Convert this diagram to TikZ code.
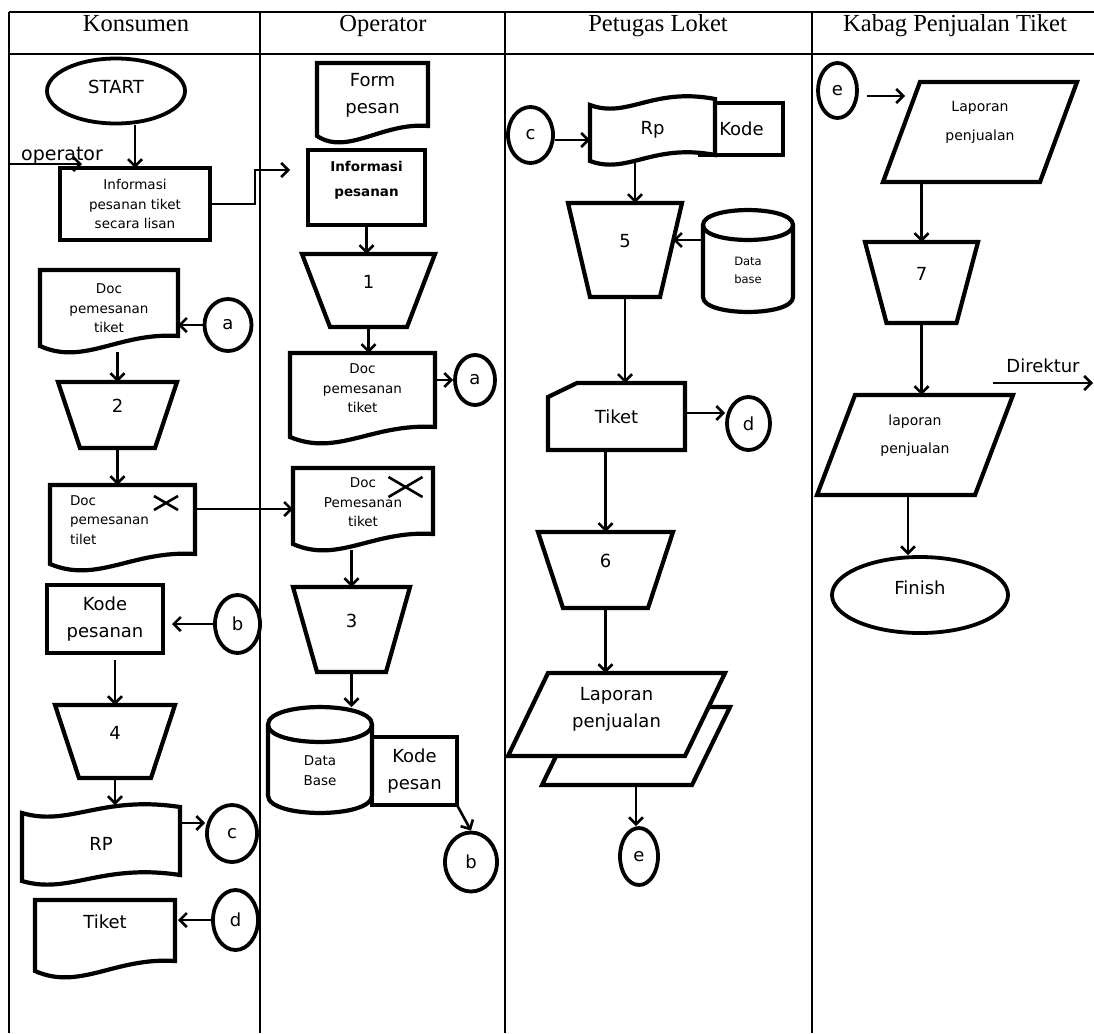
\documentclass[tikz,border=0pt]{standalone}
\usepackage{fontspec}
\setmainfont{DejaVu Sans}
\newfontfamily\headfont{Liberation Serif}
\usetikzlibrary{calc, arrows.meta, shapes.geometric, backgrounds}

\newcommand{\trapline}[2]{%
  \draw[outl] (#1.north west) -- (#1.north east) -- ($(#1.south east)+(-#2,0)$) -- ($(#1.south west)+(#2,0)$) -- cycle;}
\newcommand{\docline}[1]{%
  \draw[outl] ($(#1.south west)+(0,-6)$) -- (#1.north west) -- (#1.north east) -- ($(#1.south east)+(0,-16)$)
    .. controls ($(#1.south)+(10,-20)$) and ($(#1.south)+(-25,14)$) .. ($(#1.south west)+(0,-6)$) -- cycle;}
\newcommand{\tapeline}[1]{%
  \draw[outl, fill=white] ($(#1.north west)+(0,8)$)
    .. controls ($(#1.north west)!0.3!(#1.north east)+(0,22)$) and ($(#1.north west)!0.5!(#1.north east)+(0,-10)$) .. ($(#1.north east)+(0,2)$)
    -- ($(#1.south east)+(0,-8)$)
    .. controls ($(#1.south west)!0.5!(#1.south east)+(0,-20)$) and ($(#1.south west)!0.3!(#1.south east)+(0,12)$) .. ($(#1.south west)+(0,-2)$) -- cycle;}
\newcommand{\cylline}[2]{%
  \draw[outl] ($(#1.north west)+(0,#2)$) .. controls +(0,-1.33*#2) and +(0,-1.33*#2) .. ($(#1.north east)+(0,#2)$)
    -- ($(#1.south east)+(0,-#2)$) .. controls +(0,1.33*#2) and +(0,1.33*#2) .. ($(#1.south west)+(0,-#2)$) -- cycle;
  \draw[outl] ($(#1.north west)+(0,#2)$) .. controls +(0,1.33*#2) and +(0,1.33*#2) .. ($(#1.north east)+(0,#2)$);}
\newcommand{\cardline}[1]{%
  \draw[outl] ($(#1.north west)+(29,0)$) -- (#1.north east) -- (#1.south east) -- (#1.south west) -- ($(#1.north west)+(0,14)$) -- cycle;}
\newcommand{\paraline}[2]{%
  \draw[outl, fill=white] ($(#1.north west)+(#2,0)$) -- (#1.north east) -- ($(#1.south east)+(-#2,0)$) -- (#1.south west) -- cycle;}

\begin{document}
\begin{tikzpicture}[
    x=1pt, y=-1pt,
    lane/.style={line width=1.3pt},
    outl/.style={line width=4.2pt},
    arr/.style={line width=2.6pt, -{Straight Barb[length=7pt, width=14pt]}},
    shp/.style={rectangle, inner sep=0pt, outer sep=0pt, align=center, font=\fontsize{18}{27}\selectfont},
    sml/.style={font=\fontsize{13.5}{19.5}\selectfont},
    boxn/.style={shp, draw, line width=4.4pt},
    circ/.style={ellipse, draw, line width=3.8pt, inner sep=0pt, font=\fontsize{18}{18}\selectfont},
    trap/.style={shp, text depth=18pt},
    head/.style={anchor=base, inner sep=0pt, font=\headfont\fontsize{24.5}{26}\selectfont},
    xm/.style={line width=2.6pt}
    ]

    \useasboundingbox (0,0) rectangle (1094,1033);

    \draw[lane] (9,12) -- (1094,12);
    \draw[lane] (9,54) -- (1094,54);
    \foreach \x in {9,260,505,812}
      \draw[lane] (\x,12) -- (\x,1033);

    \node[head] (hkon) at (136,32) {Konsumen};
    \node[head] (hopr) at (383,32) {Operator};
    \node[head] (hpet) at (658,32) {Petugas Loket};
    \node[head] (hkab) at (955,32) {Kabag Penjualan Tiket};


    \node[circ, minimum width=138, minimum height=65, text depth=8pt] (start) at (116,91) {START};
    \coordinate (opsrc) at (9,164);
    \node[anchor=base west, inner sep=0pt, font=\fontsize{19}{19}\selectfont] (oplbl) at (21,160) {operator};
    \node[boxn, sml, minimum width=150, minimum height=72] (info) at (135,204) {Informasi\\pesanan tiket\\secara lisan};
    \node[shp, sml, minimum width=138, minimum height=82, text depth=5pt] (doc1) at (109,311) {Doc\\pemesanan\\tiket};
    \node[circ, minimum width=47, minimum height=52] (a1) at (228,325) {a};
    \node[trap, minimum width=119, minimum height=66] (t2) at (117.5,415) {2};
    \node[shp, sml, align=left, minimum width=145, minimum height=85, text depth=15pt] (doc2) at (122.5,527.5) {Doc\\\makebox[105pt][l]{pemesanan}\\tilet};
    \node[boxn, minimum width=116, minimum height=68] (kode1) at (105,619) {Kode\\pesanan};
    \node[circ, minimum width=45, minimum height=58] (b1) at (237.5,624) {b};
    \node[trap, minimum width=120, minimum height=73] (t4) at (115,741.5) {4};
    \node[shp, minimum width=158, minimum height=78] (rp1) at (101,844) {RP};
    \node[circ, minimum width=50, minimum height=57] (c1) at (232,833.5) {c};
    \node[shp, minimum width=140, minimum height=77, text depth=34pt] (tik1) at (105,938.5) {Tiket};
    \node[circ, minimum width=45, minimum height=60] (d1) at (235.5,920) {d};


    \node[shp, minimum width=111, minimum height=79, text depth=19pt] (form) at (372.5,102.5) {Form\\pesan};
    \node[boxn, minimum width=117, minimum height=75, text depth=18pt, font=\fontsize{13.5}{25}\selectfont\bfseries] (opinfo) at (366.5,187.5) {Informasi\\pesanan};
    \node[trap, minimum width=133, minimum height=73] (t1) at (368.5,290.5) {1};
    \node[shp, sml, minimum width=145, minimum height=90, text depth=19pt] (opdoc1) at (362.5,398) {Doc\\pemesanan\\tiket};
    \node[circ, minimum width=40, minimum height=50] (a2) at (475,380) {a};
    \node[shp, sml, minimum width=140, minimum height=82, text depth=13pt] (opdoc2) at (363,509) {Doc\\Pemesanan\\tiket};
    \node[trap, minimum width=117, minimum height=85] (t3) at (351.5,629.5) {3};
    \node[shp, sml, minimum width=104, minimum height=106, text height=51pt] (db1) at (320,760) {Data\\Base};
    \node[boxn, minimum width=85, minimum height=68] (kpesan) at (414.5,771) {Kode\\pesan};
    \node[circ, minimum width=52, minimum height=59] (b2) at (471,862) {b};


    \node[circ, minimum width=45, minimum height=56] (c2) at (530.5,135) {c};
    \node[shp, minimum width=83, minimum height=52] (kode2) at (741.5,129) {Kode};
    \node[shp, minimum width=125, minimum height=66] (rp2) at (652.5,130) {Rp};
    \node[trap, minimum width=114, minimum height=94] (t5) at (625,250) {5};
    \node[shp, minimum width=90, minimum height=102, text height=46pt, font=\fontsize{11.5}{18}\selectfont] (db2) at (748,261) {Data\\base};
    \node[shp, minimum width=137, minimum height=67] (tkt2) at (616.5,416.5) {Tiket};
    \node[circ, minimum width=43, minimum height=53] (d2) at (748.5,423.5) {d};
    \node[trap, minimum width=135, minimum height=76] (t6) at (605.5,570) {6};
    \node[shp, minimum width=188, minimum height=78] (lapb) at (636,746) {};
    \node[shp, minimum width=217, minimum height=83, text depth=15pt] (lap1) at (616.5,714.5) {Laporan\\penjualan};
    \node[circ, minimum width=38, minimum height=57] (e1) at (639,856.5) {e};


    \node[circ, minimum width=39, minimum height=55] (e2) at (837.5,90.5) {e};
    \node[shp, minimum width=194, minimum height=100, text depth=23pt, font=\fontsize{14}{29}\selectfont] (lap2) at (980,132) {Laporan\\penjualan};
    \node[trap, minimum width=113, minimum height=81] (t7) at (921.5,282.5) {7};
    \node[shp, minimum width=196, minimum height=100, text depth=21pt, font=\fontsize{14}{28}\selectfont] (lap3) at (915,445) {laporan\\penjualan};
    \coordinate (dirsrc) at (993,383);
    \coordinate (dirdst) at (1093,383);
    \node[ellipse, draw, line width=3.8pt, inner sep=0pt, minimum width=176, minimum height=76, text depth=14pt, font=\fontsize{18}{18}\selectfont] (fin) at (920,595) {Finish};


    \draw[arr] (start.south -| info.north) -- (info.north);
    \draw[arr] (opsrc) -- ($(info.north west)+(22,-4)$);
    \draw[arr, shorten >=18pt] (info.east) -- ++(45,0) |- ([yshift=17.5pt]opinfo.west);
    \draw[arr] (a1.west) -- (a1.west -| doc1.east);
    \draw[arr] (t2.north |- doc1.south) -- (t2.north);
    \draw[arr] (t2.south) -- (t2.south |- doc2.north);
    \draw[arr] (opdoc2.west -| doc2.east) -- (opdoc2.west);
    \draw[arr, shorten >=9pt] (b1.west) -- (b1.west -| kode1.east);
    \draw[arr, shorten <=7pt] (t4.north |- kode1.south) -- (t4.north);
    \draw[arr] (t4.south) -- (t4.south |- rp1.north);
    \draw[arr] ([yshift=21pt]rp1.east) -- ([yshift=10.5pt]c1.west);
    \draw[arr, shorten >=3pt] (d1.west) -- (d1.west -| tik1.east);

    \draw[arr] (opinfo.south) -- (opinfo.south |- t1.north);
    \draw[arr] (t1.south) -- (t1.south |- opdoc1.north);
    \draw[arr] (opdoc1.east |- a2.west) -- (a2.west);
    \draw[arr] (t3.north |- opdoc2.south) -- (t3.north);
    \draw[arr] (t3.south) -- (t3.south |- db1.north);
    \draw[arr] (kpesan.south east) -- (b2.north);

    \draw[arr] ([yshift=-5pt]c2.east) -- ([yshift=-5pt]c2.east -| rp2.west);
    \draw[arr] ($(rp2.south)+(-17.5,0)$) -- ($(t5.north)+(10,0)$);
    \draw[arr, shorten >=48pt] ([yshift=21pt]db2.west) -- ([yshift=10pt]t5.center);
    \draw[arr] (t5.south) -- (t5.south |- tkt2.north);
    \draw[arr] ([yshift=3.5pt]tkt2.east) -- ([yshift=3.5pt]tkt2.east -| d2.west);
    \draw[arr] (t6.north |- tkt2.south) -- (t6.north);
    \draw[arr] (t6.south) -- (t6.south |- lap1.north);
    \draw[arr] (lapb.south) -- (lapb.south |- e1.north);

    \draw[arr] ($(e2.east)+(8,5.5)$) -- ($(lap2.north west)+(22,14)$);
    \draw[arr] (t7.north |- lap2.south) -- (t7.north);
    \draw[arr] (t7.south) -- (t7.south |- lap3.north);
    \draw[arr] (dirsrc) -- node[above=9pt, inner sep=0pt, font=\fontsize{18}{18}\selectfont] (dirlbl) {Direktur} (dirdst);
    \draw[arr] ($(fin.north |- lap3.south)+(-12,0)$) -- ($(fin.north)+(-12,0)$);

    \draw[xm] ($(doc2.north east)+(-29,18)$) +(-12,-7) -- +(12,7) +(-12,7) -- +(12,-7);
    \draw[xm] ($(opdoc2.north east)+(-27.5,19)$) +(-17,-10) -- +(17,10) +(-17,10) -- +(17,-10);

    \begin{pgfonlayer}{background}
      \docline{doc1}
      \docline{doc2}
      \tapeline{rp1}
      \docline{tik1}
      \docline{form}
      \docline{opdoc1}
      \docline{opdoc2}
      \trapline{t2}{22}
      \trapline{t4}{24}
      \trapline{t1}{28}
      \trapline{t3}{24}
      \trapline{t5}{22}
      \trapline{t6}{25}
      \trapline{t7}{21.5}
      \cylline{db1}{17.5}
      \cylline{db2}{15}
      \draw[outl] (kode2.north west) rectangle (kode2.south east);
      \tapeline{rp2}
      \cardline{tkt2}
      \paraline{lapb}{38}
      \paraline{lap1}{40}
      \paraline{lap2}{37}
      \paraline{lap3}{38}
    \end{pgfonlayer}

  \end{tikzpicture}
\end{document}
